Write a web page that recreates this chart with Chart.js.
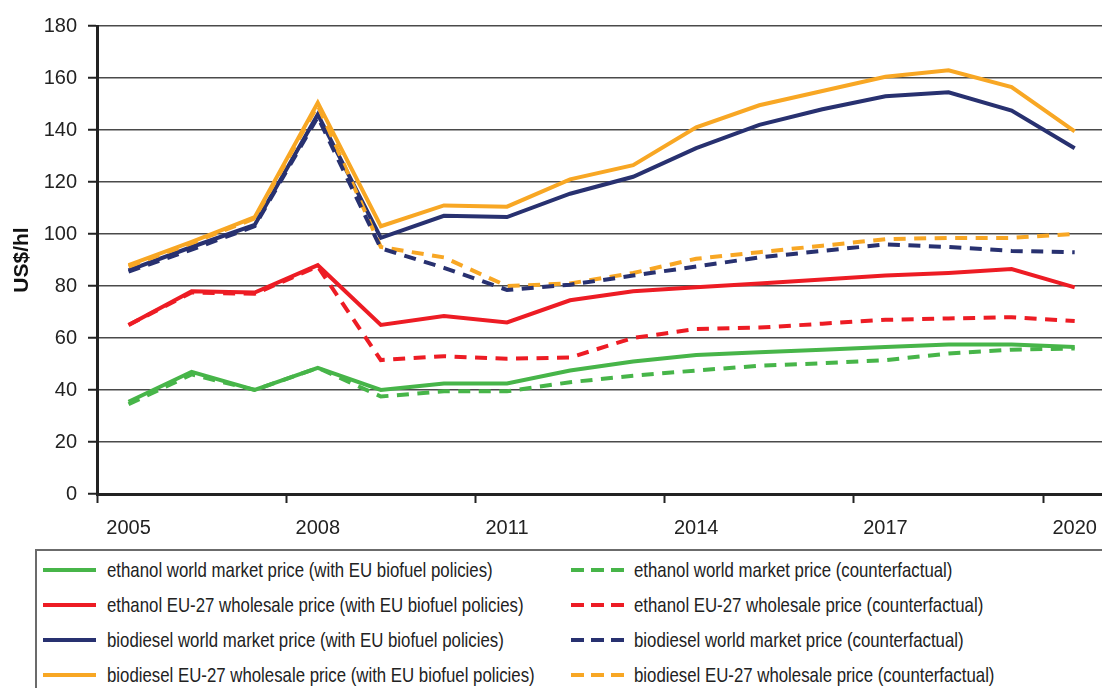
<!DOCTYPE html>
<html>
<head>
<meta charset="utf-8">
<script src="https://cdn.jsdelivr.net/npm/chart.js@4"></script>
<style>
  body { margin: 0; background: #fff; overflow: hidden; }
  #wrap { position: absolute; left: 0; top: 0; width: 1110px; height: 548px; }
  #legend {
    position: absolute; left: 35px; top: 549px; width: 1100px; height: 200px;
    border: 2px solid #6b6b6b;
    font-family: "Liberation Sans", Arial, sans-serif;
    font-size: 21px; color: #222;
  }
  .item { position: absolute; height: 20px; display: flex; align-items: center; white-space: nowrap; }
  .item svg { flex: none; }
  .item span { display: inline-block; transform: scaleX(0.8); transform-origin: left center; }
</style>
</head>
<body>
<div id="wrap"><canvas id="mainChart"></canvas></div>
<div id="legend"></div>
<script>
const years = [`2005`, `2006`, `2007`, `2008`, `2009`, `2010`, `2011`, `2012`, `2013`, `2014`, `2015`, `2016`, `2017`, `2018`, `2019`, `2020`]
const yearTicks = [`2005`, `2008`, `2011`, `2014`, `2017`, `2020`] // only these are written under the axis

// prices in US$/hl
const ethanolWorld = [35.5, 47, 40, 48.5, 40, 42.5, 42.5, 47.5, 51, 53.5, 54.5, 55.5, 56.5, 57.5, 57.5, 56.5]
const ethanolWorldCf = [34.5, 46, 40, 48.5, 37.5, 39.5, 39.5, 43, 45.5, 47.5, 49.3, 50.3, 51.5, 54, 55.5, 56]
const ethanolEu = [65, 78, 77.5, 88, 65, 68.5, 66, 74.5, 78, 79.5, 81, 82.5, 84, 85, 86.5, 79.5]
const ethanolEuCf = [65, 77.5, 77, 87.5, 51.5, 53, 52, 52.5, 60, 63.5, 64, 65.5, 67, 67.5, 68, 66.5]
const biodieselWorld = [86, 95, 103.5, 146, 98.5, 107, 106.5, 115.5, 122, 133, 142, 148, 153, 154.5, 147.5, 133]
const biodieselWorldCf = [85.5, 94, 103, 145, 94.5, 87, 78.5, 80.5, 84, 87.5, 91, 93.5, 96, 95, 93.5, 93]
const biodieselEu = [88, 97, 106.5, 150.5, 103, 111, 110.5, 121, 126.5, 141, 149.5, 155, 160.5, 163, 156.5, 139.5]
const biodieselEuCf = [87.5, 96.5, 106, 149.5, 95, 91, 80, 81, 85, 90.5, 93, 95.5, 98, 98.5, 98.5, 100]

const withPolicyLabels = [
  `ethanol world market price (with EU biofuel policies)`,
  `ethanol EU-27 wholesale price (with EU biofuel policies)`,
  `biodiesel world market price (with EU biofuel policies)`,
  `biodiesel EU-27 wholesale price (with EU biofuel policies)`,
]
const counterfactualLabels = [
  `ethanol world market price (counterfactual)`,
  `ethanol EU-27 wholesale price (counterfactual)`,
  `biodiesel world market price (counterfactual)`,
  `biodiesel EU-27 wholesale price (counterfactual)`,
]

const colors = [`#47b549`, `#ed1c24`, `#283170`, `#f8a724`]
const dash = [12, 8.5]
const font = `"Liberation Sans", Arial, sans-serif`

const withPolicy = [ethanolWorld, ethanolEu, biodieselWorld, biodieselEu]
const counterfactual = [ethanolWorldCf, ethanolEuCf, biodieselWorldCf, biodieselEuCf]

const datasets = []
withPolicy.forEach((values, i) => {
  datasets.push({
    label: withPolicyLabels[i],
    data: values,
    borderColor: colors[i],
    borderWidth: 4,
    pointRadius: 0,
    tension: 0,
    order: 1,
  })
})
counterfactual.forEach((values, i) => {
  datasets.push({
    label: counterfactualLabels[i],
    data: values,
    borderColor: colors[i],
    borderWidth: 4,
    borderDash: dash,
    pointRadius: 0,
    tension: 0,
    order: 0,
  })
})

new Chart(document.getElementById(`mainChart`), {
  type: `line`,
  data: { labels: years, datasets: datasets },
  options: {
    responsive: true,
    maintainAspectRatio: false,
    animation: false,
    layout: { padding: { top: 26, right: 2, left: 0, bottom: 0 } },
    plugins: { legend: { display: false }, tooltip: { enabled: false } },
    scales: {
      x: {
        type: `category`,
        offset: true,
        grid: {
          offset: true,
          drawOnChartArea: false,
          drawTicks: true,
          tickLength: 9,
          tickWidth: 2,
          tickColor: (ctx) => (ctx.type === `tick` && ctx.index % 3 === 0 ? `#222` : `rgba(0,0,0,0)`),
        },
        border: { color: `#222`, width: 3 },
        ticks: {
          autoSkip: false,
          maxRotation: 0,
          padding: 13,
          color: `#222`,
          font: { family: font, size: 20 },
          callback: function (val, idx) {
            const lab = this.getLabelForValue(val)
            return yearTicks.includes(lab) ? lab : ``
          },
        },
        afterFit: (scale) => { scale.height = 54 },
      },
      y: {
        min: 0,
        max: 180,
        ticks: { stepSize: 20, padding: 11, color: `#222`, font: { family: font, size: 20 } },
        grid: { color: `#4a4a4a`, lineWidth: 1.5, tickLength: 9, tickColor: `#222`, tickWidth: 2 },
        border: { color: `#222`, width: 3 },
        title: {
          display: true,
          text: `US$/hl`,
          color: `#111`,
          font: { family: font, size: 21, weight: `bold` },
          padding: { top: 10, bottom: 0 },
        },
        afterFit: (scale) => { scale.width = 97 },
      },
    },
  },
})

// legend in two columns: solid lines left, dashed right
const legendBox = document.getElementById(`legend`)
const sample = (color, dashed) =>
  `<svg width="53" height="6" style="margin-right:${dashed ? 10 : 11}px"><line x1="0" y1="3" x2="53" y2="3" stroke="${color}" stroke-width="4"${dashed ? ` stroke-dasharray="13 7"` : ``}/></svg>`

withPolicyLabels.forEach((label, i) => {
  const top = 9 + i * 35
  legendBox.innerHTML += `<div class="item" style="left:6px;top:${top}px">${sample(colors[i], false)}<span>${label}</span></div>`
  legendBox.innerHTML += `<div class="item" style="left:534px;top:${top}px">${sample(colors[i], true)}<span>${counterfactualLabels[i]}</span></div>`
})
</script>
</body>
</html>
